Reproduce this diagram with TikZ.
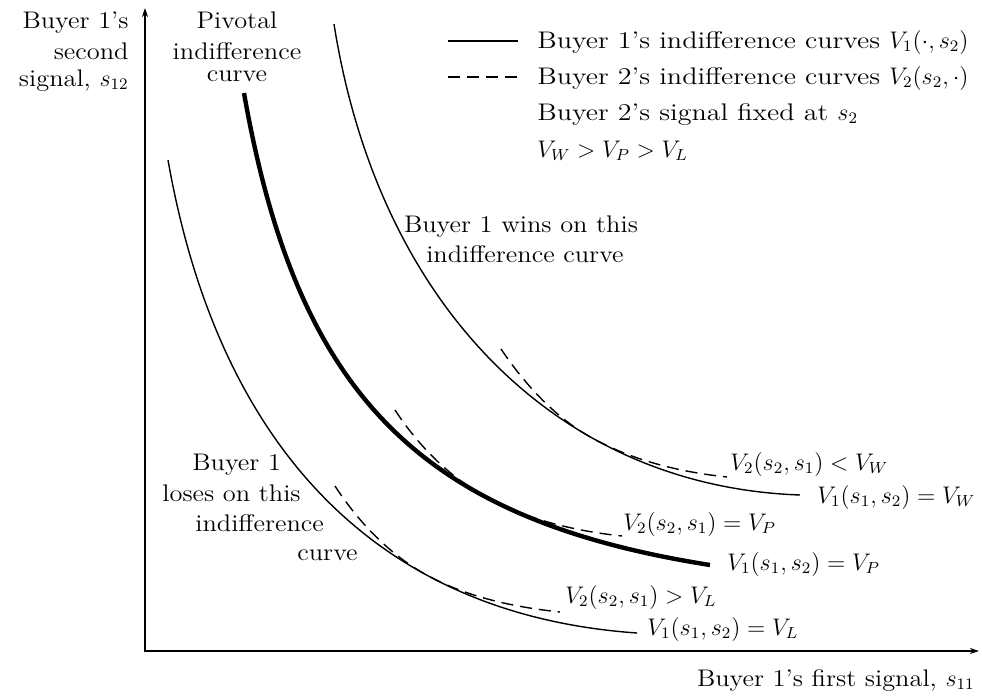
\documentclass[tikz,border=0pt]{standalone}
\usepackage[no-math]{fontspec}
\setmainfont{lmroman12-regular.otf}[FakeStretch=1.1, Ligatures=TeX, ItalicFont=lmroman12-italic.otf]
\newfontfamily\legendfont{lmroman12-regular.otf}[FakeStretch=1.17, Ligatures=TeX, ItalicFont=lmroman12-italic.otf]
\usetikzlibrary{arrows.meta}
\begin{document}
\begin{tikzpicture}[x=0.5pt,y=-0.5pt,
  lbl/.style={inner sep=0pt, font=\fontsize{12}{14}\selectfont},
  lgd/.style={inner sep=0pt, font=\fontsize{12}{14}\selectfont\legendfont},
  thincurve/.style={line width=0.7pt},
  thickcurve/.style={line width=2.2pt},
  dashcurve/.style={line width=0.7pt, dash pattern=on 6pt off 3.5pt},
  axisline/.style={line width=0.75pt, {Stealth[length=4.5pt,width=3pt]}-{Stealth[length=4.5pt,width=3pt]}}]
\useasboundingbox (0,0) rectangle (982,696);
% axes
\coordinate (ytop) at (145,8);
\coordinate (O) at (145,651);
\coordinate (xend) at (979,651);
\draw[axisline] (ytop) -- (O) -- (xend);
% Buyer 1's indifference curves
\draw[thincurve] (334,24) .. controls (378.5,305.6) and (557.4,486.4) .. (800,495);   % V_W
\draw[thickcurve] (244,93) .. controls (297.1,395) and (419.7,519.2) .. (710,565);    % V_P
\draw[thincurve] (168,160) .. controls (217.4,440.8) and (371.4,614.5) .. (637,633);  % V_L
% Buyer 2's indifference curves (tangent to the ones above)
\draw[dashcurve] (501,349) .. controls (524.1,383.2) and (553.2,415.7) .. (589,436.2)
  .. controls (630.7,460.1) and (679.2,472) .. (727,477);
\draw[dashcurve] (395,410) .. controls (419,446.9) and (452.2,479.9) .. (491.4,500)
  .. controls (531.6,520.6) and (577,531.3) .. (622,536);
\draw[dashcurve] (335,486) .. controls (358.4,522.1) and (390.1,555.3) .. (427.9,575.7)
  .. controls (468.1,597.4) and (514.5,607.2) .. (560,612);
% axis labels
\node[lbl, anchor=base east] (yl1) at (129,28) {Buyer 1's};
\node[lbl, anchor=base east] (yl2) at (129,60) {second};
\node[lbl, anchor=base east] (yl3) at (129,86) {signal, $s_{12}$};
\node[lbl, anchor=base east] (xl) at (975,686) {Buyer 1's first signal, $s_{11}$};
% pivotal
\node[lbl, anchor=base] (pv1) at (237,28) {Pivotal};
\node[lbl, anchor=base] (pv2) at (237,60) {indifference};
\node[lbl, anchor=base] (pv3) at (237,82) {curve};
% legend
\coordinate (lg1a) at (448,41);
\coordinate (lg1b) at (518,41);
\coordinate (lg2a) at (448,77);
\coordinate (lg2b) at (518,77);
\draw[thincurve] (lg1a) -- (lg1b);
\draw[dashcurve] (lg2a) -- (lg2b);
\node[lgd, anchor=base west] (lt1) at (537,48) {Buyer 1's indifference curves $V_1(\cdot,s_2)$};
\node[lgd, anchor=base west] (lt2) at (537,84) {Buyer 2's indifference curves $V_2(s_2,\cdot)$};
\node[lgd, anchor=base west] (lt3) at (537,120) {Buyer 2's signal fixed at $s_2$};
\node[lgd, anchor=base west] (lt4) at (537,157) {$V_W > V_P > V_L$};
% region notes
\node[lbl, anchor=base] (win1) at (521,232) {Buyer 1 wins on this};
\node[lbl, anchor=base] (win2) at (525,262) {indifference curve};
\node[lbl, anchor=base west] (lose1) at (192,470) {Buyer 1};
\node[lbl, anchor=base west] (lose2) at (162,501) {loses on this};
\node[lbl, anchor=base west] (lose3) at (195,531) {indifference};
\node[lbl, anchor=base west] (lose4) at (297,560) {curve};
% curve labels
\node[lbl, anchor=base west] (cw2) at (730,470) {$V_2(s_2,s_1) < V_W$};
\node[lbl, anchor=base west] (cw1) at (817,503) {$V_1(s_1,s_2) = V_W$};
\node[lbl, anchor=base west] (cp2) at (623,530) {$V_2(s_2,s_1) = V_P$};
\node[lbl, anchor=base west] (cp1) at (727,570) {$V_1(s_1,s_2) = V_P$};
\node[lbl, anchor=base west] (cl2) at (565,603) {$V_2(s_2,s_1) > V_L$};
\node[lbl, anchor=base west] (cl1) at (647,635) {$V_1(s_1,s_2) = V_L$};
\end{tikzpicture}
\end{document}
